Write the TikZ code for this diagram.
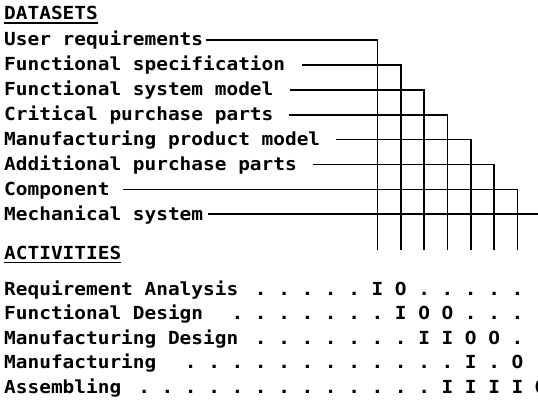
\documentclass[tikz,border=0pt]{standalone}
\usepackage{fontspec}
\usepackage{graphicx}
\newfontfamily\chartmono{DejaVu Sans Mono}
% monospaced text, stretched slightly to the character pitch of the chart
\newcommand\widetext[1]{\scalebox{1.08}[1]{#1}}

\begin{document}
\begin{tikzpicture}[x=1pt,y=-1pt,
  txt/.style={inner sep=0pt, anchor=base west,
    font=\chartmono\bfseries\fontsize{18}{20}\selectfont},
  cellmark/.style={inner sep=0pt, anchor=base,
    font=\chartmono\bfseries\fontsize{18}{20}\selectfont},
  link/.style={line width=1.7pt},
  uline/.style={line width=1.4pt}]

\useasboundingbox (0,0) rectangle (538,401);
\clip (0,0) rectangle (538,401);

% ---------- datasets ----------
\node[txt] (hdata) at (4,20) {\widetext{DATASETS}};
\draw[uline] ([yshift=-3pt]hdata.base west) -- ([yshift=-3pt]hdata.base east);

\foreach \t [count=\i] in {User requirements, Functional specification,
    Functional system model, Critical purchase parts,
    Manufacturing product model, Additional purchase parts,
    Component, Mechanical system}
  \node[txt] (d\i) at (4,{45.7+24.9*(\i-1)}) {\widetext{\t}};

% each dataset runs right to its own column, then down to the activities
\foreach \sx [count=\i] in {206,301.7,290,289,336,312.7,123,208} {
  \coordinate (s\i) at (\sx,{40+24.9*(\i-1)});
  \coordinate (c\i) at ({377.5+23.333*(\i-1)},250);
  \draw[link] (s\i) -| (c\i);
}

% ---------- activities ----------
\node[txt] (hact) at (4,259.5) {\widetext{ACTIVITIES}};
\draw[uline] ([yshift=-3pt]hact.base west) -- ([yshift=-3pt]hact.base east);

\node[txt] (a1) at (4,295)   {\widetext{Requirement Analysis}};
\node[txt] (a2) at (4,319.5) {\widetext{Functional Design}};
\node[txt] (a3) at (4,344)   {\widetext{Manufacturing Design}};
\node[txt] (a4) at (4,368.5) {\widetext{Manufacturing}};
\node[txt] (a5) at (4,393)   {\widetext{Assembling}};

% input (I) / output (O) marks on the character grid
\foreach \s/\c in {21/.,23/.,25/.,27/.,29/.,31/I,33/O,35/.,37/.,39/.,41/.,43/.}
  \node[cellmark] (m1-\s) at ({15.8+11.667*\s},295) {\widetext{\c}};
\foreach \s/\c in {19/.,21/.,23/.,25/.,27/.,29/.,31/.,33/I,35/O,37/O,39/.,41/.,43/.}
  \node[cellmark] (m2-\s) at ({15.8+11.667*\s},319.5) {\widetext{\c}};
\foreach \s/\c in {21/.,23/.,25/.,27/.,29/.,31/.,33/.,35/I,37/I,39/O,41/O,43/.}
  \node[cellmark] (m3-\s) at ({15.8+11.667*\s},344) {\widetext{\c}};
\foreach \s/\c in {15/.,17/.,19/.,21/.,23/.,25/.,27/.,29/.,31/.,33/.,35/.,37/.,39/I,41/.,43/O}
  \node[cellmark] (m4-\s) at ({15.8+11.667*\s},368.5) {\widetext{\c}};
\foreach \s/\c in {11/.,13/.,15/.,17/.,19/.,21/.,23/.,25/.,27/.,29/.,31/.,33/.,35/.,37/I,39/I,41/I,43/I,45/O}
  \node[cellmark] (m5-\s) at ({15.8+11.667*\s},393) {\widetext{\c}};

\end{tikzpicture}
\end{document}
